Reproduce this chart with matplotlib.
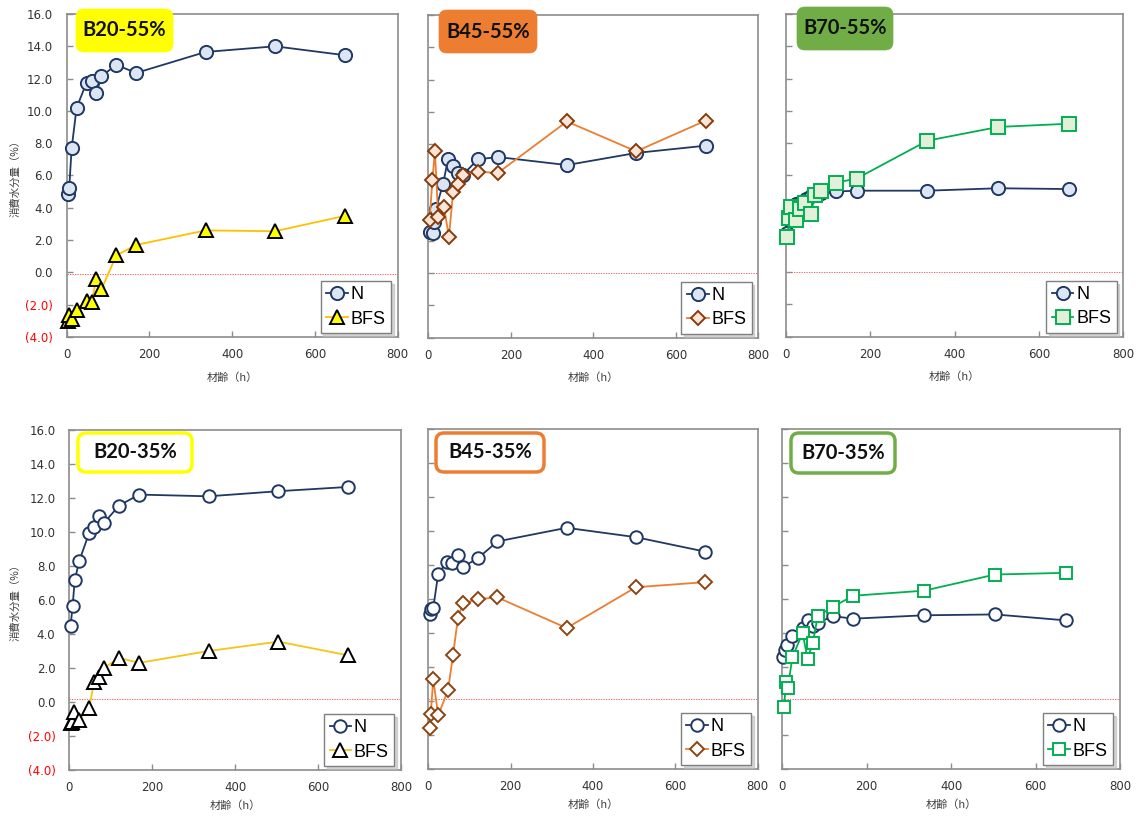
import matplotlib
matplotlib.use('Agg')
import matplotlib.pyplot as plt
from matplotlib.patches import FancyBboxPatch
from matplotlib.transforms import IdentityTransform

plt.rcParams['font.family'] = ['DejaVu Sans', 'Noto Sans CJK JP']

W, H = 1138, 816

# ---------------- data ----------------
x_ticks = [0, 200, 400, 600, 800]
x_tick_labels = ['0', '200', '400', '600', '800']
y_ticks = [-4, -2, 0, 2, 4, 6, 8, 10, 12, 14, 16]
y_tick_labels = ['(4.0)', '(2.0)', '0.0', '2.0', '4.0', '6.0', '8.0', '10.0', '12.0', '14.0', '16.0']
x_label = '材齢（h）'
y_label = '消費水分量（%）'
series_names = ['N', 'BFS']
titles = ['B20-55%', 'B45-55%', 'B70-55%', 'B20-35%', 'B45-35%', 'B70-35%']

# B20-55%
b20_55_n_h = [3, 6, 12, 24, 48, 60, 72, 84, 120, 168, 336, 504, 672]
b20_55_n = [4.85, 5.2, 7.7, 10.2, 11.75, 11.85, 11.1, 12.15, 12.85, 12.35, 13.65, 14.0, 13.45]
b20_55_bfs_h = [3, 6, 12, 24, 48, 60, 72, 84, 120, 168, 336, 504, 672]
b20_55_bfs = [-3.0, -2.65, -2.9, -2.3, -1.8, -1.85, -0.4, -1.05, 1.05, 1.7, 2.6, 2.55, 3.5]

# B45-55%
b45_55_n_h = [3, 12, 15, 18, 36, 48, 60, 72, 84, 120, 168, 336, 504, 672]
b45_55_n = [2.55, 2.5, 3.2, 3.95, 5.55, 7.1, 6.65, 6.2, 6.1, 7.05, 7.2, 6.7, 7.45, 7.9]
b45_55_bfs_h = [3, 10, 16, 24, 38, 50, 60, 72, 84, 120, 168, 336, 504, 672]
b45_55_bfs = [3.3, 5.75, 7.6, 3.45, 4.1, 2.25, 5.0, 5.5, 6.1, 6.3, 6.2, 9.4, 7.55, 9.45]

# B70-55%
b70_55_n_h = [3, 6, 12, 24, 36, 48, 60, 72, 84, 120, 168, 336, 504, 672]
b70_55_n = [2.4, 3.3, 3.9, 4.2, 4.35, 4.55, 4.7, 4.8, 4.9, 5.0, 5.05, 5.05, 5.2, 5.15]
b70_55_bfs_h = [4, 9, 13, 25, 33, 45, 59, 70, 83, 120, 168, 336, 504, 672]
b70_55_bfs = [2.2, 3.35, 4.05, 3.25, 3.9, 4.3, 3.6, 4.8, 5.05, 5.55, 5.8, 8.15, 9.0, 9.2]

# B20-35%
b20_35_n_h = [3, 8, 13, 24, 48, 60, 72, 84, 120, 168, 336, 504, 672]
b20_35_n = [4.45, 5.65, 7.15, 8.3, 9.95, 10.3, 10.95, 10.55, 11.55, 12.2, 12.1, 12.4, 12.65]
b20_35_bfs_h = [3, 6, 12, 24, 48, 60, 72, 84, 120, 168, 336, 504, 672]
b20_35_bfs = [-1.25, -1.15, -0.6, -1.05, -0.35, 1.2, 1.45, 2.0, 2.6, 2.3, 3.0, 3.55, 2.75]

# B45-35%
b45_35_n_h = [3, 7, 12, 24, 46, 57, 72, 84, 120, 168, 336, 504, 672]
b45_35_n = [5.15, 5.4, 5.45, 7.5, 8.2, 8.15, 8.6, 7.9, 8.4, 9.4, 10.2, 9.65, 8.8]
b45_35_bfs_h = [3, 6, 12, 24, 48, 60, 72, 84, 120, 168, 336, 504, 672]
b45_35_bfs = [-1.6, -0.75, 1.3, -0.85, 0.65, 2.7, 4.9, 5.75, 6.0, 6.1, 4.3, 6.7, 7.0]

# B70-35%
b70_35_n_h = [2, 6, 12, 24, 48, 60, 72, 84, 120, 168, 336, 504, 672]
b70_35_n = [2.6, 3.0, 3.3, 3.85, 4.3, 4.8, 4.4, 4.6, 5.0, 4.85, 5.05, 5.1, 4.75]
b70_35_bfs_h = [4, 9, 13, 24, 48, 60, 72, 84, 120, 168, 336, 504, 672]
b70_35_bfs = [-0.35, 1.15, 0.75, 2.6, 4.0, 2.5, 3.4, 5.0, 5.55, 6.2, 6.5, 7.45, 7.55]

# ---------------- layout / style ----------------
def rect(l, r, t, b):
    return [l / W, 1 - b / H, (r - l) / W, (b - t) / H]

NAVY = '#1F3864'
panels = [
    dict(rect=rect(66.7, 397.5, 14, 337), title=titles[0], box=(76, 9, 173, 52),
         box_fill='#FFFF00', box_edge='#FFFF00', zero=-0.1,
         n=(b20_55_n_h, b20_55_n), bfs=(b20_55_bfs_h, b20_55_bfs),
         n_fill='#DCE6F2', bfs_marker='^', bfs_ms=10.5, bfs_fill='#FFFF00',
         bfs_edge='#000000', bfs_line='#FFC000', n_ms=9.5, ylabels=True),
    dict(rect=rect(428.3, 758.3, 15, 337.7), title=titles[1], box=(439, 10, 537, 53),
         box_fill='#ED7D31', box_edge='#ED7D31', zero=0.0,
         n=(b45_55_n_h, b45_55_n), bfs=(b45_55_bfs_h, b45_55_bfs),
         n_fill='#DCE6F2', bfs_marker='D', bfs_ms=7.6, bfs_fill='#FBE5D6',
         bfs_edge='#843C0C', bfs_line='#ED7D31', n_ms=9.5, ylabels=False),
    dict(rect=rect(785.7, 1123.3, 14, 336.7), title=titles[2], box=(797, 7, 893, 50),
         box_fill='#70AD47', box_edge='#70AD47', zero=0.0,
         n=(b70_55_n_h, b70_55_n), bfs=(b70_55_bfs_h, b70_55_bfs),
         n_fill='#DCE6F2', bfs_marker='s', bfs_ms=9.5, bfs_fill='#E2F0D9',
         bfs_edge='#00B050', bfs_line='#00B050', n_ms=9.5, ylabels=False),
    dict(rect=rect(69.3, 401, 430, 770), title=titles[3], box=(78, 433, 192, 472),
         box_fill='white', box_edge='#FFFF00', zero=0.15,
         n=(b20_35_n_h, b20_35_n), bfs=(b20_35_bfs_h, b20_35_bfs),
         n_fill='white', bfs_marker='^', bfs_ms=10.5, bfs_fill='white',
         bfs_edge='#000000', bfs_line='#F5C518', n_ms=9, ylabels=True),
    dict(rect=rect(428.3, 757.7, 429.3, 769), title=titles[4], box=(436, 433, 544, 472),
         box_fill='white', box_edge='#ED7D31', zero=0.15,
         n=(b45_35_n_h, b45_35_n), bfs=(b45_35_bfs_h, b45_35_bfs),
         n_fill='white', bfs_marker='D', bfs_ms=7.6, bfs_fill='white',
         bfs_edge='#8B4513', bfs_line='#ED7D31', n_ms=9, ylabels=False),
    dict(rect=rect(782.3, 1120, 429.3, 769), title=titles[5], box=(791, 433, 895, 473),
         box_fill='white', box_edge='#70AD47', zero=0.15,
         n=(b70_35_n_h, b70_35_n), bfs=(b70_35_bfs_h, b70_35_bfs),
         n_fill='white', bfs_marker='s', bfs_ms=9.2, bfs_fill='white',
         bfs_edge='#00B050', bfs_line='#00B050', n_ms=9, ylabels=False),
]

fig = plt.figure(figsize=(W / 100, H / 100), dpi=100)
fig.patch.set_facecolor('white')

for i, p in enumerate(panels):
    ax = fig.add_axes(p['rect'])
    ax.set_xlim(0, 800)
    ax.set_ylim(-4, 16)
    for s in ax.spines.values():
        s.set_color('#8C8C8C')
        s.set_linewidth(1.2)
    ax.axhline(p['zero'], color='#FF4040', lw=0.6, ls=(0, (1.5, 1.5)), zorder=1)

    ln_n, = ax.plot(p['n'][0], p['n'][1], '-o', color=NAVY, lw=1.3,
                    ms=p['n_ms'], mfc=p['n_fill'], mec=NAVY, mew=1.4,
                    label=series_names[0], zorder=3, clip_on=False)
    ln_b, = ax.plot(p['bfs'][0], p['bfs'][1], '-', marker=p['bfs_marker'],
                    color=p['bfs_line'], lw=1.3, ms=p['bfs_ms'],
                    mfc=p['bfs_fill'], mec=p['bfs_edge'], mew=1.4,
                    label=series_names[1], zorder=4, clip_on=False)

    ax.set_xticks(x_ticks)
    ax.set_xticklabels(x_tick_labels, fontsize=8.5, color='#333333')
    ax.set_yticks(y_ticks)
    ax.tick_params(direction='in', length=4, color='#8C8C8C', width=1)
    ax.tick_params(axis='x', pad=8)
    ax.tick_params(axis='y', pad=10)
    if p['ylabels']:
        ax.set_yticklabels(y_tick_labels, fontsize=8.5)
        for t, v in zip(ax.get_yticklabels(), y_ticks):
            t.set_color('#FF0000' if v < 0 else '#333333')
    else:
        ax.set_yticklabels([])

    ax.set_xlabel(x_label, fontsize=8, color='#404040',
                  family=['Noto Sans CJK JP', 'DejaVu Sans'])
    ax.xaxis.set_label_coords(0.5, -0.108 if i < 3 else -0.09)

    leg = ax.legend(handles=[ln_n, ln_b], loc='lower right',
                    bbox_to_anchor=(0.98, 0.012), fancybox=False,
                    edgecolor='#7F7F7F', framealpha=1,
                    shadow={'color': '#BBBBBB', 'alpha': 0.6, 'ox': 2, 'oy': -2},
                    prop={'family': 'Liberation Sans', 'size': 13},
                    handlelength=1.2, handletextpad=0.15, borderpad=0.3,
                    labelspacing=0.4, borderaxespad=0)
    leg.get_frame().set_linewidth(1.0)
    leg.set_zorder(20)

    # title box in pixel coordinates
    x0, y0, x1, y1 = p['box']
    filled = p['box_fill'] != 'white'
    box = FancyBboxPatch((x0, H - y1), x1 - x0, y1 - y0,
                         boxstyle='round,pad=0,rounding_size=8',
                         transform=IdentityTransform(),
                         facecolor=p['box_fill'], edgecolor=p['box_edge'],
                         linewidth=0.5 if filled else 2.5, zorder=10)
    fig.patches.append(box)
    fig.text((x0 + x1) / 2 / W, 1 - (y0 + y1) / 2 / H, p['title'],
             ha='center', va='center', fontsize=14.5, fontweight='bold',
             family='Lato', color='#111111', zorder=11)

# y labels (left column)
for yc in (176, 600):
    fig.text(15 / W, 1 - yc / H, y_label, rotation=90, ha='center', va='center',
             fontsize=7.5, color='#404040',
             family=['Noto Sans CJK JP', 'DejaVu Sans'])

fig.savefig('out.png', dpi=100, facecolor='white')
